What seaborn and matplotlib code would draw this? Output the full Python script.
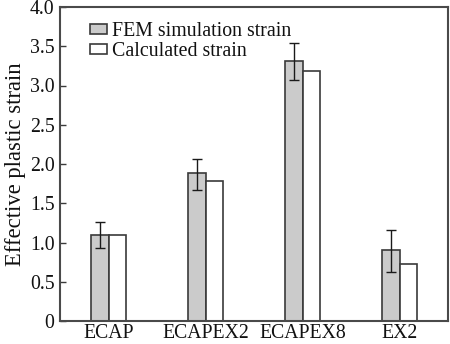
import matplotlib
matplotlib.use("Agg")
import matplotlib.pyplot as plt
import seaborn as sns
import pandas as pd
import numpy as np

categories = ["ECAP", "ECAPEX2", "ECAPEX8", "EX2"]
series_names = ["FEM simulation strain", "Calculated strain"]
fem_values = [1.10, 1.88, 3.31, 0.90]
calc_values = [1.10, 1.78, 3.18, 0.72]
fem_err_low = [0.17, 0.21, 0.24, 0.27]
fem_err_high = [0.16, 0.19, 0.23, 0.26]
y_ticks = [0, 0.5, 1.0, 1.5, 2.0, 2.5, 3.0, 3.5, 4.0]
y_tick_labels = ["0", "0.5", "1.0", "1.5", "2.0", "2.5", "3.0", "3.5", "4.0"]

df = pd.DataFrame({
    "category": categories * 2,
    "series": [series_names[0]] * 4 + [series_names[1]] * 4,
    "value": fem_values + calc_values,
})

sns.set_theme(style="white")
plt.rcParams["font.family"] = ["Liberation Serif", "DejaVu Serif"]

fig = plt.figure(figsize=(4.5, 3.44), dpi=100)
ax = fig.add_axes([60 / 450, 1 - 321 / 344, 388 / 450, 314 / 344])

edge = "#3a3a3a"
sns.barplot(data=df, x="category", y="value", hue="series", order=categories,
            hue_order=series_names, palette=["#cbcbcb", "#ffffff"],
            width=0.36, errorbar=None, edgecolor=edge, linewidth=1.2,
            ax=ax, legend=True)

bar_w = 0.18
xpos = np.arange(len(categories)) - bar_w / 2
ax.errorbar(xpos, fem_values, yerr=[fem_err_low, fem_err_high], fmt="none",
            ecolor="#1a1a1a", elinewidth=1.0, capsize=3.3, capthick=1.0)

ax.set_xlim(-0.5, 3.5)
ax.set_ylim(0, 4.0)
ax.set_yticks(y_ticks)
ax.set_yticklabels(y_tick_labels)
ax.set_xlabel("")
ax.set_ylabel("Effective plastic strain", fontsize=16.3, color="#111111", labelpad=3)
ax.tick_params(axis="y", direction="in", length=4, width=1, color=edge,
               labelsize=14.3, labelcolor="#111111", pad=4, left=True)
ax.tick_params(axis="x", length=0, labelsize=14.2, labelcolor="#111111", pad=2)
for s in ax.spines.values():
    s.set_color("#4a4a4a")
    s.set_linewidth(1.5)

leg = ax.legend(loc="upper left", bbox_to_anchor=(30 / 388, 0.952), frameon=False,
                fontsize=14.3, handlelength=0.85, handleheight=0.45,
                handletextpad=0.25, labelspacing=0.05, borderaxespad=0,
                borderpad=0)
for t in leg.get_texts():
    t.set_color("#111111")

fig.savefig("out.png", dpi=100)
